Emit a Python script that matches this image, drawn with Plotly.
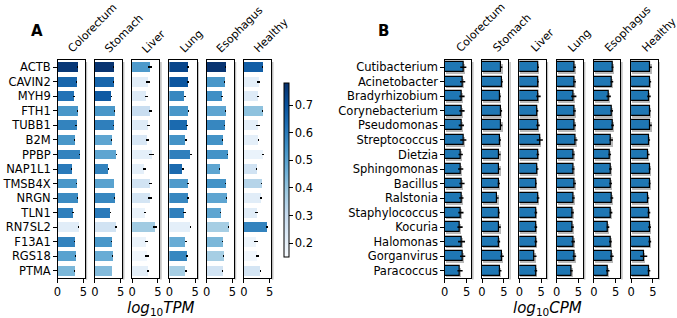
import plotly.graph_objects as go

W, H = 677, 318

tissues = ["Colorectum", "Stomach", "Liver", "Lung", "Esophagus", "Healthy"]
genes = ["ACTB", "CAVIN2", "MYH9", "FTH1", "TUBB1", "B2M", "PPBP", "NAP1L1",
         "TMSB4X", "NRGN", "TLN1", "RN7SL2", "F13A1", "RGS18", "PTMA"]
microbes = ["Cutibacterium", "Acinetobacter", "Bradyrhizobium", "Corynebacterium",
            "Pseudomonas", "Streptococcus", "Dietzia", "Sphingomonas", "Bacillus",
            "Ralstonia", "Staphylococcus", "Kocuria", "Halomonas", "Gorganvirus",
            "Paracoccus"]

# Panel A: log10 TPM per tissue (rows follow `genes`)
tpm_colorectum = [3.85, 3.7, 3.2, 3.8, 3.6, 3.3, 4.2, 2.75, 3.7, 3.85, 2.95, 4.15, 3.3, 3.45, 3.35]
tpm_stomach    = [3.7, 3.6, 3.2, 3.8, 3.6, 3.25, 4.15, 2.6, 3.7, 3.85, 3.0, 4.15, 3.25, 3.45, 3.35]
tpm_liver      = [3.5, 3.15, 2.75, 3.5, 3.2, 3.0, 3.8, 2.4, 3.5, 3.5, 2.55, 4.4, 2.8, 2.9, 3.1]
tpm_lung       = [3.65, 3.65, 3.0, 3.7, 3.5, 3.2, 4.15, 2.6, 3.6, 3.7, 2.95, 4.1, 3.2, 3.4, 3.2]
tpm_esophagus  = [3.7, 3.4, 3.0, 3.7, 3.4, 3.15, 4.1, 2.55, 3.7, 3.8, 2.75, 4.3, 3.15, 3.25, 3.1]
tpm_healthy    = [3.7, 2.9, 2.7, 3.65, 2.75, 2.8, 3.65, 2.45, 3.45, 3.3, 2.45, 4.55, 2.4, 2.6, 3.2]

tpm_err_colorectum = [0.1, 0.08, 0.15, 0.1, 0.12, 0.08, 0.1, 0.08, 0.08, 0.1, 0.15, 0.1, 0.1, 0.1, 0.1]
tpm_err_stomach    = [0.08, 0.08, 0.12, 0.08, 0.1, 0.06, 0.08, 0.08, 0.06, 0.08, 0.1, 0.15, 0.06, 0.06, 0.06]
tpm_err_liver      = [0.35, 0.35, 0.25, 0.3, 0.35, 0.3, 0.45, 0.3, 0.3, 0.35, 0.25, 0.4, 0.35, 0.4, 0.25]
tpm_err_lung       = [0.2, 0.2, 0.2, 0.15, 0.2, 0.2, 0.2, 0.2, 0.15, 0.2, 0.2, 0.15, 0.2, 0.2, 0.2]
tpm_err_esophagus  = [0.1, 0.1, 0.12, 0.08, 0.1, 0.08, 0.1, 0.08, 0.06, 0.08, 0.12, 0.12, 0.12, 0.12, 0.06]
tpm_err_healthy    = [0.1, 0.3, 0.15, 0.1, 0.3, 0.15, 0.2, 0.1, 0.15, 0.2, 0.2, 0.2, 0.35, 0.3, 0.1]

# Panel A: colour values (colour bar scale)
col_colorectum = [0.76, 0.65, 0.62, 0.53, 0.58, 0.53, 0.58, 0.6, 0.53, 0.56, 0.59, 0.22, 0.58, 0.5, 0.44]
col_stomach    = [0.77, 0.65, 0.68, 0.53, 0.59, 0.49, 0.49, 0.58, 0.5, 0.57, 0.6, 0.27, 0.53, 0.47, 0.43]
col_liver      = [0.52, 0.22, 0.23, 0.3, 0.23, 0.25, 0.21, 0.21, 0.27, 0.26, 0.19, 0.38, 0.19, 0.17, 0.21]
col_lung       = [0.73, 0.69, 0.57, 0.53, 0.64, 0.54, 0.59, 0.64, 0.52, 0.57, 0.59, 0.21, 0.47, 0.57, 0.37]
col_esophagus  = [0.77, 0.53, 0.55, 0.49, 0.57, 0.54, 0.54, 0.49, 0.54, 0.49, 0.49, 0.37, 0.44, 0.37, 0.27]
col_healthy    = [0.67, 0.21, 0.23, 0.41, 0.21, 0.21, 0.19, 0.27, 0.34, 0.22, 0.22, 0.58, 0.18, 0.17, 0.26]

# Panel B: log10 CPM per tissue (rows follow `microbes`)
cpm_colorectum = [4.25, 4.1, 3.95, 3.95, 3.8, 4.25, 3.65, 3.65, 3.95, 3.8, 3.7, 3.5, 3.85, 4.1, 3.5]
cpm_stomach    = [4.45, 4.55, 4.1, 4.4, 4.45, 4.1, 4.0, 4.0, 3.85, 3.55, 3.85, 4.0, 3.85, 4.6, 4.15]
cpm_liver      = [4.3, 4.25, 4.4, 4.1, 4.3, 4.7, 4.25, 4.15, 3.8, 4.3, 3.8, 3.8, 3.8, 3.55, 3.8]
cpm_lung       = [4.15, 4.15, 3.95, 4.1, 4.15, 4.4, 3.85, 3.8, 4.15, 3.85, 3.65, 3.65, 3.8, 4.1, 3.4]
cpm_esophagus  = [4.3, 4.15, 3.4, 4.1, 4.3, 4.0, 3.65, 3.8, 3.85, 4.15, 3.95, 3.25, 3.8, 4.15, 3.2]
cpm_healthy    = [4.45, 4.4, 4.1, 4.3, 4.45, 4.15, 3.95, 4.25, 4.25, 3.95, 4.1, 4.25, 4.3, 2.9, 4.1]

cpm_err_colorectum = [0.7, 0.6, 0.6, 0.6, 0.6, 0.7, 0.5, 0.6, 0.6, 0.5, 0.6, 0.6, 0.8, 0.6, 0.6]
cpm_err_stomach    = [0.2, 0.2, 0.2, 0.2, 0.2, 0.25, 0.25, 0.2, 0.25, 0.25, 0.2, 0.3, 0.3, 0.4, 0.3]
cpm_err_liver      = [0.2, 0.2, 0.5, 0.25, 0.4, 0.7, 0.3, 0.25, 0.2, 0.3, 0.3, 0.3, 0.3, 0.4, 0.3]
cpm_err_lung       = [0.3, 0.3, 0.6, 0.3, 0.3, 0.4, 0.3, 0.3, 0.3, 0.3, 0.3, 0.3, 0.4, 0.4, 0.3]
cpm_err_esophagus  = [0.2, 0.3, 0.5, 0.3, 0.3, 0.4, 0.3, 0.3, 0.3, 0.3, 0.3, 0.3, 0.3, 0.4, 0.4]
cpm_err_healthy    = [0.3, 0.2, 0.4, 0.2, 0.3, 0.2, 0.3, 0.2, 0.2, 0.2, 0.3, 0.3, 0.3, 0.8, 0.3]

cbar_ticks = [0.2, 0.3, 0.4, 0.5, 0.6, 0.7]

tpm = [tpm_colorectum, tpm_stomach, tpm_liver, tpm_lung, tpm_esophagus, tpm_healthy]
tpm_err = [tpm_err_colorectum, tpm_err_stomach, tpm_err_liver, tpm_err_lung, tpm_err_esophagus, tpm_err_healthy]
cols = [col_colorectum, col_stomach, col_liver, col_lung, col_esophagus, col_healthy]
cpm = [cpm_colorectum, cpm_stomach, cpm_liver, cpm_lung, cpm_esophagus, cpm_healthy]
cpm_err = [cpm_err_colorectum, cpm_err_stomach, cpm_err_liver, cpm_err_lung, cpm_err_esophagus, cpm_err_healthy]

blues = ["#f7fbff", "#deebf7", "#c6dbef", "#9ecae1", "#6baed6",
         "#4292c6", "#2171b5", "#08519c", "#08306b"]
blues_scale = [[i / 8, c] for i, c in enumerate(blues)]

FONT = "DejaVu Sans"
px = lambda v: v / W
py = lambda v: 1 - v / H

# approximate DejaVu Sans advance widths (units per 2048 em) for title placement
CW = {"C": 1430, "o": 1253, "l": 569, "r": 842, "e": 1260, "c": 1126, "t": 803,
      "u": 1298, "m": 1995, "S": 1300, "a": 1255, "h": 1298, "L": 1141, "i": 569,
      "v": 1212, "n": 1298, "g": 1300, "E": 1294, "s": 1067, "p": 1300, "H": 1540,
      "y": 1212}
TFS = 11
def text_len(s):
    return sum(CW.get(ch, 1250) for ch in s) / 2048 * TFS

Y_TOP, Y_BOT = 60, 278
STEP = 37.6

fig = go.Figure()
layout = {}
annotations = []
shapes = []

def add_panel(start, width, xmax, rows, values, errs, colors, idx0, shadow, c1, y0):
    for k in range(6):
        i = idx0 + k
        xa = "x" if i == 1 else f"x{i}"
        ya = "y" if i == 1 else f"y{i}"
        left = start + k * STEP
        if shadow:
            fig.add_trace(go.Bar(
                y=rows, x=values[k], orientation="h", xaxis=xa, yaxis=ya,
                base=0.25, width=0.68, offset=-0.34 + 0.12,
                marker=dict(color="rgba(0,0,0,0.28)", line=dict(width=0)),
                showlegend=False, hoverinfo="skip"))
        mk = dict(line=dict(width=1.2, color="black"), color="#1f77b4") if colors is None else \
            dict(color=colors[k], coloraxis="coloraxis", line=dict(width=0))
        fig.add_trace(go.Bar(
            y=rows, x=values[k], orientation="h", xaxis=xa, yaxis=ya,
            width=0.68, offset=-0.34, marker=mk,
            error_x=dict(type="data", array=errs[k], color="black", thickness=1.6, width=0),
            showlegend=False))
        layout["xaxis" if i == 1 else f"xaxis{i}"] = dict(
            domain=[px(left), px(left + width)], anchor=ya, range=[0, xmax],
            tickvals=[0, 5], ticks="outside", ticklen=3.5, tickwidth=1, tickcolor="black",
            showline=True, mirror=True, linecolor="black", linewidth=1,
            showgrid=False, zeroline=False,
            tickfont=dict(family=FONT, size=11.5, color="black"))
        layout["yaxis" if i == 1 else f"yaxis{i}"] = dict(
            domain=[py(Y_BOT), py(Y_TOP)], anchor=xa, type="category",
            categoryorder="array", categoryarray=rows, range=[14.5, -0.5],
            showticklabels=(k == 0), ticks="outside" if k == 0 else "", ticklen=3.5,
            tickcolor="black", showline=True, mirror=True, linecolor="black", linewidth=1,
            showgrid=False, zeroline=False,
            tickfont=dict(family=FONT, size=11.5, color="black"))
        # soft frame shadow (right side)
        shapes.append(dict(type="line", xref="paper", yref="paper",
                           x0=px(left + width + 1.6), x1=px(left + width + 1.6),
                           y0=py(Y_TOP + 2), y1=py(Y_BOT + 1.6),
                           line=dict(color="rgba(0,0,0,0.25)", width=1.6)))
        half = text_len(tissues[k]) / 2 * 0.7071
        annotations.append(dict(
            text=tissues[k], xref="paper", yref="paper",
            x=px(left + c1 + half), y=py(y0 - half),
            xanchor="center", yanchor="middle", textangle=-45, showarrow=False,
            font=dict(family=FONT, size=TFS, color="black")))

add_panel(54, 27.5, 27.5 / 5.2, genes, tpm, tpm_err, cols, 1, False, 12.5, 51.0)
add_panel(444.7, 26.7, 26.7 / 4.4, microbes, cpm, cpm_err, None, 7, True, 13.8, 50.0)

annotations += [
    dict(text="<b>A</b>", xref="paper", yref="paper", x=px(33), y=py(30.5),
         xanchor="center", yanchor="middle", showarrow=False,
         font=dict(family=FONT, size=15, color="black")),
    dict(text="<b>B</b>", xref="paper", yref="paper", x=px(383), y=py(30.5),
         xanchor="center", yanchor="middle", showarrow=False,
         font=dict(family=FONT, size=15, color="black")),
    dict(text="<i>log</i><sub>10</sub><i>TPM</i>", xref="paper", yref="paper",
         x=px(158), y=py(308), xanchor="center", yanchor="middle", showarrow=False,
         font=dict(family=FONT, size=15, color="black")),
    dict(text="<i>log</i><sub>10</sub><i>CPM</i>", xref="paper", yref="paper",
         x=px(548), y=py(308), xanchor="center", yanchor="middle", showarrow=False,
         font=dict(family=FONT, size=15, color="black")),
]

fig.update_layout(
    width=W, height=H, autosize=False,
    margin=dict(l=0, r=0, t=0, b=0),
    paper_bgcolor="white", plot_bgcolor="white",
    barmode="overlay", bargap=0,
    annotations=annotations, shapes=shapes,
    coloraxis=dict(
        colorscale=blues_scale, cmin=0.15, cmax=0.78,
        colorbar=dict(
            x=px(283), xanchor="left", xpad=0, y=py(170), yanchor="middle", ypad=0,
            thickness=5, thicknessmode="pixels", len=174, lenmode="pixels",
            tickvals=cbar_ticks, ticktext=[f"{t:.1f}" for t in cbar_ticks],
            ticks="outside", ticklen=3.5, tickcolor="black",
            outlinewidth=1, outlinecolor="black",
            tickfont=dict(family=FONT, size=11.5, color="black"))),
    **layout)

fig.write_html("out.html", config={"displayModeBar": False},
               post_script="document.body.style.margin='0';document.body.style.overflow='hidden';")
